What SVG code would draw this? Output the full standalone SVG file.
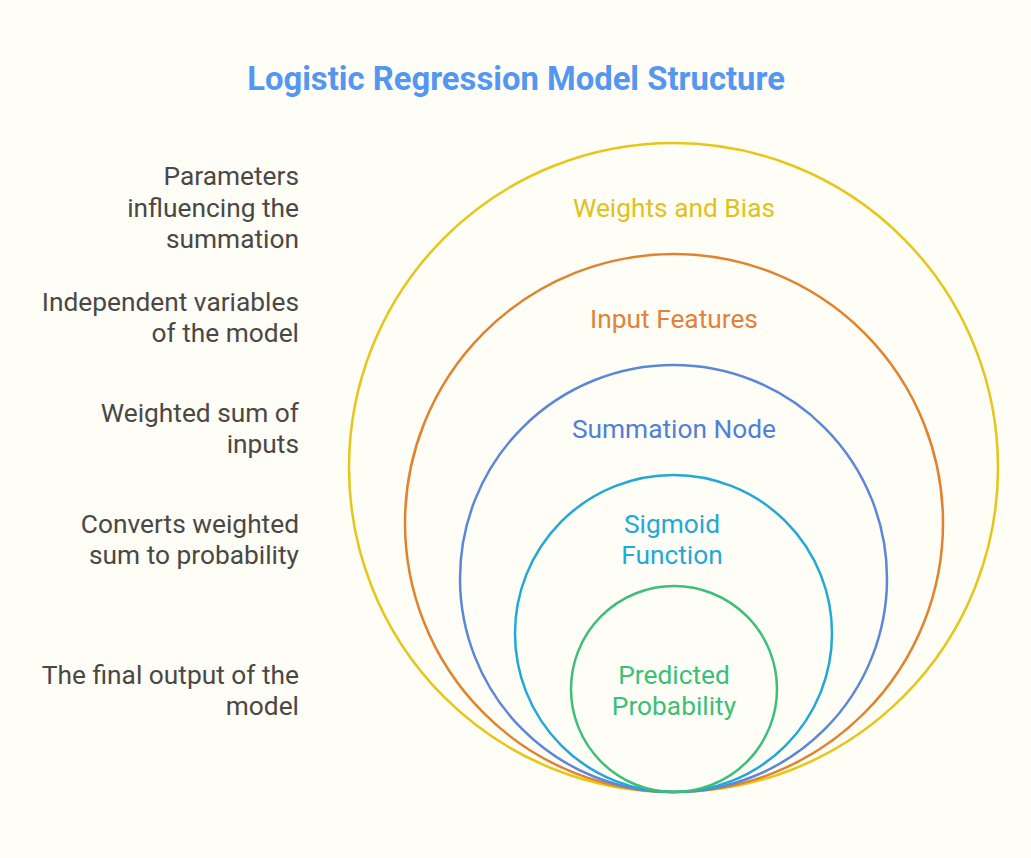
<svg xmlns="http://www.w3.org/2000/svg" width="1031" height="858" viewBox="0 0 1031 858">
<style>
.bg{fill:#fefdf6}
.ring{fill:none;stroke-width:2.5}
.t{font-family:Roboto,"Liberation Sans",sans-serif;font-size:26.3px;text-anchor:middle}
.d{font-family:Roboto,"Liberation Sans",sans-serif;font-size:26.3px;text-anchor:end;fill:#4a4845}
.title{font-family:Roboto,"Liberation Sans",sans-serif;font-size:32.8px;font-weight:bold;text-anchor:middle;fill:#5596f0}
</style>
<rect class="bg" x="0" y="0" width="1031" height="858"/>
<text class="title" x="516" y="90">Logistic Regression Model Structure</text>
<g id="weights">
<circle class="ring" cx="673.5" cy="467.5" r="324.5" stroke="#e6c619"/>
<text class="t" x="674" y="217" fill="#e2c21a">Weights and Bias</text>
</g>
<g id="inputs">
<circle class="ring" cx="674" cy="523" r="269" stroke="#e0822e"/>
<text class="t" x="674" y="328" fill="#e0823a">Input Features</text>
</g>
<g id="summation">
<circle class="ring" cx="673.5" cy="578.5" r="213.5" stroke="#5b87d9"/>
<text class="t" x="674" y="438" fill="#5080d8">Summation Node</text>
</g>
<g id="sigmoid">
<circle class="ring" cx="673.5" cy="633.5" r="158.5" stroke="#22a8d6"/>
<text class="t" x="672" y="533" fill="#24a8d8">Sigmoid</text>
<text class="t" x="672" y="564" fill="#24a8d8">Function</text>
</g>
<g id="probability">
<circle class="ring" cx="674" cy="689" r="103" stroke="#3dbf7a"/>
<text class="t" x="674" y="684" fill="#3cbf78">Predicted</text>
<text class="t" x="674" y="715" fill="#3cbf78">Probability</text>
</g>
<g id="descriptions">
<text class="d" x="299" y="185">Parameters</text>
<text class="d" x="299" y="217">influencing the</text>
<text class="d" x="299" y="248">summation</text>
<text class="d" x="299" y="311">Independent variables</text>
<text class="d" x="299" y="342">of the model</text>
<text class="d" x="299" y="422">Weighted sum of</text>
<text class="d" x="299" y="453">inputs</text>
<text class="d" x="299" y="533">Converts weighted</text>
<text class="d" x="299" y="564">sum to probability</text>
<text class="d" x="299" y="684">The final output of the</text>
<text class="d" x="299" y="715">model</text>
</g>
<g id="connectors"></g>
</svg>
